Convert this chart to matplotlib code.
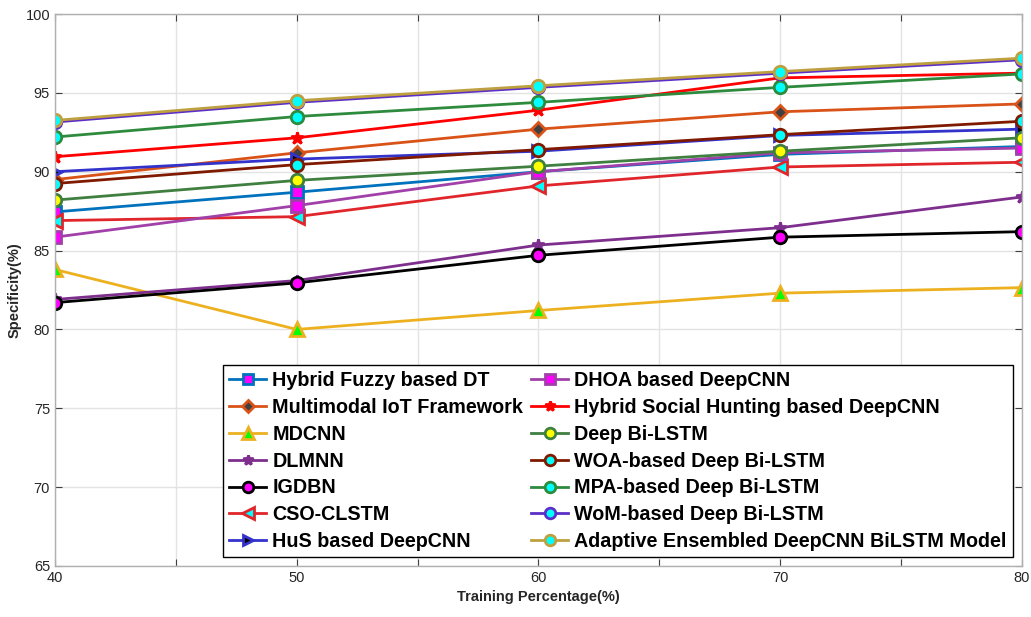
import numpy as np
import matplotlib
matplotlib.use("Agg")
import matplotlib.pyplot as plt

plt.rcParams["font.family"] = ["Liberation Sans", "DejaVu Sans"]

# training percentage
x = [40, 50, 60, 70, 80]

# specificity (%) per method
fuzzy_dt = [87.45, 88.7, 90.0, 91.1, 91.6]
multimodal = [89.5, 91.2, 92.7, 93.8, 94.3]
mdcnn = [83.8, 80.0, 81.2, 82.3, 82.65]
dlmnn = [81.9, 83.1, 85.35, 86.45, 88.4]
igdbn = [81.7, 82.95, 84.7, 85.85, 86.2]
cso_clstm = [86.9, 87.15, 89.1, 90.3, 90.6]
hus_cnn = [90.0, 90.8, 91.3, 92.3, 92.7]
dhoa_cnn = [85.85, 87.85, 90.0, 91.2, 91.5]
hsh_cnn = [90.95, 92.15, 93.9, 95.95, 96.25]
bilstm = [88.2, 89.45, 90.35, 91.3, 92.15]
woa_bilstm = [89.25, 90.45, 91.4, 92.35, 93.2]
mpa_bilstm = [92.2, 93.5, 94.4, 95.35, 96.2]
wom_bilstm = [93.15, 94.4, 95.35, 96.25, 97.1]
adaptive = [93.25, 94.5, 95.45, 96.35, 97.2]

# (label, values, line colour, marker, marker face, marker size)
series = [
    ("Hybrid Fuzzy based DT", fuzzy_dt, "#0072BD", "s", "#FF00FF", 8),
    ("Multimodal IoT Framework", multimodal, "#D95319", "D", "#404040", 7),
    ("MDCNN", mdcnn, "#EDB120", "^", "#00FF00", 10),
    ("DLMNN", dlmnn, "#7E2F8E", "*", "#7E2F8E", 9),
    ("IGDBN", igdbn, "#000000", "o", "#FF00FF", 9),
    ("CSO-CLSTM", cso_clstm, "#E0262B", "<", "#00FFFF", 10),
    ("HuS based DeepCNN", hus_cnn, "#3333CC", ">", "#000000", 9),
    ("DHOA based DeepCNN", dhoa_cnn, "#A040A8", "s", "#FF00FF", 8),
    ("Hybrid Social Hunting based DeepCNN", hsh_cnn, "#FF0000", "*", "#FF0000", 9),
    ("Deep Bi-LSTM", bilstm, "#3F7F3F", "o", "#FFFF00", 9),
    ("WOA-based Deep Bi-LSTM", woa_bilstm, "#7F1A00", "o", "#00FFFF", 9),
    ("MPA-based Deep Bi-LSTM", mpa_bilstm, "#2E8B3E", "o", "#00FFFF", 9),
    ("WoM-based Deep Bi-LSTM", wom_bilstm, "#5B2FC8", "o", "#00FFFF", 9),
    ("Adaptive Ensembled DeepCNN BiLSTM Model", adaptive, "#BFA040", "o", "#00FFFF", 9),
]

fig = plt.figure(figsize=(10.31, 6.17), dpi=100)
ax = fig.add_axes([0.0533, 0.0827, 0.9380, 0.8946])

handles = []
for label, vals, col, mk, face, ms in series:
    h, = ax.plot(x, vals, color=col, lw=2, marker=mk, markersize=ms,
                 markerfacecolor=face, markeredgecolor=col, markeredgewidth=2,
                 label=label)
    handles.append(h)

ax.set_xlim(40, 80)
ax.set_ylim(65, 100)
ax.set_xticks(np.arange(40, 81, 5))
ax.set_xticklabels([str(v) if v % 10 == 0 else "" for v in range(40, 81, 5)])
ax.set_yticks(np.arange(65, 101, 5))
ax.grid(True, color="#e3e3e3", lw=1)
ax.set_axisbelow(True)
ax.tick_params(direction="in", length=5, color="#404040", labelcolor="#262626",
               labelsize=10.5, top=True, right=True)
for s in ax.spines.values():
    s.set_color("#b0b0b0")
    s.set_linewidth(1)

ax.set_xlabel("Training Percentage(%)", fontsize=10.5, fontweight="bold", color="#262626")
ax.set_ylabel("Specificity(%)", fontsize=10.5, fontweight="bold", color="#262626", labelpad=3)

leg = ax.legend(handles=handles, loc="lower left", bbox_to_anchor=(0.1737, 0.016),
                ncol=2, frameon=True, fancybox=False, framealpha=1,
                edgecolor="black", handlelength=1.9, handletextpad=0.3,
                columnspacing=0.4, labelspacing=0.4, borderpad=0.3,
                borderaxespad=0, markerscale=0.85,
                prop={"weight": "bold", "size": 14.2})
leg.get_frame().set_linewidth(1)

fig.savefig("out.png", dpi=100, facecolor="white")
